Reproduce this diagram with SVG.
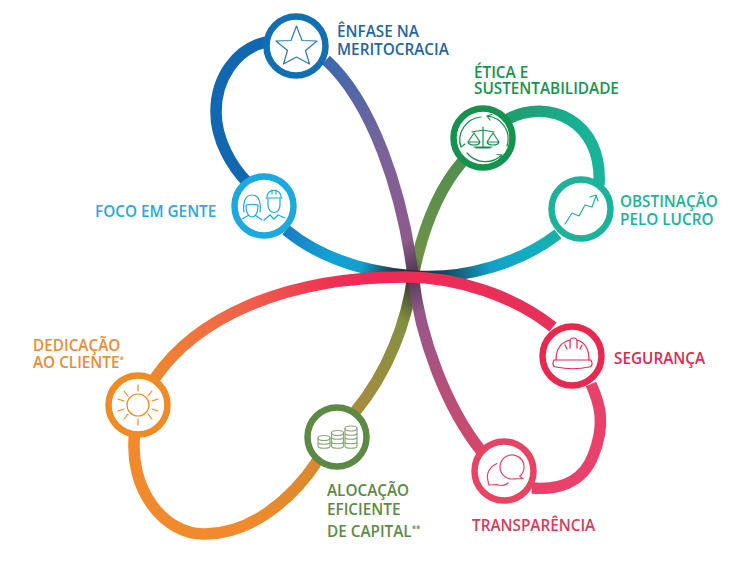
<svg xmlns="http://www.w3.org/2000/svg" width="749" height="577" viewBox="0 0 749 577">
<style>
.l{fill:none;stroke-width:11.5;stroke-linecap:butt}
.r{fill:#fff;stroke-width:6.5}
.i{fill:none;stroke-width:1.2;stroke-linecap:round;stroke-linejoin:round}
text{font-family:"Open Sans","Noto Sans","Liberation Sans",sans-serif;font-weight:600;font-size:15.3px}
.s{font-size:8px}
</style>
<defs>
<linearGradient id="g1" gradientUnits="userSpaceOnUse" x1="285" y1="228" x2="413" y2="276"><stop offset="0" stop-color="#1a7cc0"/><stop offset=".4" stop-color="#13a2d6"/><stop offset=".62" stop-color="#12a0cc"/><stop offset=".85" stop-color="#163f55"/><stop offset="1" stop-color="#2a2a35"/></linearGradient>
<linearGradient id="g3" gradientUnits="userSpaceOnUse" x1="326" y1="60" x2="413" y2="275"><stop offset="0" stop-color="#3d69ae"/><stop offset=".45" stop-color="#7a6299"/><stop offset=".85" stop-color="#8f5a8c"/><stop offset="1" stop-color="#4a3a50"/></linearGradient>
<linearGradient id="g4" gradientUnits="userSpaceOnUse" x1="413" y1="275" x2="480" y2="452"><stop offset="0" stop-color="#4a3a50"/><stop offset=".2" stop-color="#95588a"/><stop offset="1" stop-color="#d2486a"/></linearGradient>
<linearGradient id="g6" gradientUnits="userSpaceOnUse" x1="155" y1="378" x2="552" y2="325"><stop offset="0" stop-color="#f08630"/><stop offset=".25" stop-color="#f0604a"/><stop offset=".5" stop-color="#ee2b55"/><stop offset="1" stop-color="#e8305a"/></linearGradient>
<linearGradient id="g8" gradientUnits="userSpaceOnUse" x1="290" y1="490" x2="413" y2="285"><stop offset="0" stop-color="#d98a2e"/><stop offset=".5" stop-color="#a08d3f"/><stop offset=".85" stop-color="#83903f"/><stop offset="1" stop-color="#3a3a30"/></linearGradient>
<linearGradient id="g9" gradientUnits="userSpaceOnUse" x1="413" y1="285" x2="465" y2="160"><stop offset="0" stop-color="#3a4030"/><stop offset=".2" stop-color="#6f9148"/><stop offset="1" stop-color="#4f8f4e"/></linearGradient>
<linearGradient id="g10" gradientUnits="userSpaceOnUse" x1="413" y1="276" x2="560" y2="232"><stop offset="0" stop-color="#2a2a35"/><stop offset=".2" stop-color="#15485c"/><stop offset=".5" stop-color="#12a0c8"/><stop offset=".8" stop-color="#12aec0"/><stop offset="1" stop-color="#18b0a5"/></linearGradient>
<linearGradient id="g11" gradientUnits="userSpaceOnUse" x1="510" y1="120" x2="600" y2="185"><stop offset="0" stop-color="#1f9e70"/><stop offset=".5" stop-color="#18b094"/><stop offset="1" stop-color="#1ab59c"/></linearGradient>
<linearGradient id="g7" gradientUnits="userSpaceOnUse" x1="135" y1="430" x2="318" y2="460"><stop offset="0" stop-color="#f08a2c"/><stop offset=".7" stop-color="#f08a2c"/><stop offset="1" stop-color="#d88a2e"/></linearGradient>
</defs>
<g id="connectors">
<path class="l" stroke="#1168b0" d="M266 42C236 49 216 78 216 112C216 140 232 167 248 183"/>
<path class="l" stroke="url(#g9)" d="M413 276C422 232 436 192 462 162"/>
<path class="l" stroke="url(#g8)" d="M355 412C388 372 407 322 413 276"/>
<path class="l" stroke="url(#g3)" d="M326 60C372 102 402 190 413 275"/>
<path class="l" stroke="url(#g4)" d="M413 275C420 340 448 410 482 452"/>
<path class="l" stroke="url(#g1)" d="M286 230C320 258 366 272 413 276"/>
<path class="l" stroke="url(#g10)" d="M413 276C466 280 522 262 558 234"/>
<path class="l" stroke="url(#g11)" d="M508 119C548 98 603 120 599 185"/>
<path class="l" stroke="#e8416a" d="M532 488C556 490 582 484 593 456C606 424 600 404 591 384"/>
<path class="l" stroke="url(#g6)" d="M155 378C195 320 280 277 405 277C460 277 515 297 553 327"/>
<path class="l" stroke="url(#g7)" d="M135 430C127 490 165 535 205 534C250 534 292 500 318 460"/>
</g>
<g id="enfase"><circle class="r" stroke="#126fb3" cx="296" cy="46" r="29.5"/>
<path class="i" stroke="#2a7ab5" d="M296.500 26L302 40.500L317 41L305.500 50.500L309.500 64L296.500 57L283.500 64L287.500 50.500L276 41L291 40.500Z"/>
<text fill="#1f66a6"><tspan x="337" y="37">ÊNFASE NA</tspan><tspan x="337" y="55">MERITOCRACIA</tspan></text></g>
<g id="foco"><circle class="r" stroke="#1da8de" cx="264" cy="206" r="29.5"/>
<g class="i" stroke="#1da8de"><path d="M244 212C243 205 244 195 252 195C260 195 261 205 260 212M246 205C246 215 250 217 252 217C254 217 258 215 258 205M246 205C250 204 254 204 258 205M242 219L249 215M262 220L255 215"/>
<path d="M267 197C267 188 281 188 281 197M266 198H282M268 199V205C268 215 280 215 280 205V199M272 190V194M276 190V194M264 220L270 215L274 219L278 215L285 218"/></g>
<text fill="#27a9e1" x="95" y="217">FOCO EM GENTE</text></g>
<g id="etica"><circle class="r" stroke="#16924f" cx="483" cy="138" r="29.5"/>
<g class="i" stroke="#16924f"><path d="M483 127V148M476 148H490M474 147H492M472 132L483 130L494 132"/><path d="M474 133L468 142H480ZM493 133L487 142H499ZM468 142C469 146 479 146 480 142M487 142C488 146 498 146 499 142"/>
<path d="M481 117A23 23 0 0 0 461 147M461 147L459.500 142M461 147L465 144"/><path d="M487 116A23 23 0 0 1 507 146M487 116L492 114.500M487 116L490 120"/>
<path d="M467 153A24 24 0 0 0 502 155M502 155L497 154.500M502 155L501 160"/></g>
<text fill="#16924f"><tspan x="474" y="78">ÉTICA E</tspan><tspan x="474" y="94">SUSTENTABILIDADE</tspan></text></g>
<g id="obstinacao"><circle class="r" stroke="#1cb39a" cx="581" cy="209" r="29.5"/>
<path class="i" stroke="#1cb39a" d="M565 224L572 213L579 216L585 205L592 207L596 196M590 197L596 195L598 201"/>
<text fill="#1cb39a"><tspan x="620" y="207">OBSTINAÇÃO</tspan><tspan x="620" y="225">PELO LUCRO</tspan></text></g>
<g id="seguranca"><circle class="r" stroke="#e8294f" cx="572" cy="356" r="29.5"/>
<g class="i" stroke="#e8294f"><path d="M556 360C556 348 562 342 570 340M577 340C584 342 589 348 589 360M570 348V341C570 337 577 337 577 341V348M565 345L567 349M582 345L580 349"/><path d="M554 360H591M554 360C552 364 553 367 556 367C566 369 580 369 589 367C592 367 593 364 591 360"/></g>
<text fill="#d92b4f" x="614" y="364">SEGURANÇA</text></g>
<g id="transparencia"><circle class="r" stroke="#e84363" cx="504" cy="471" r="29.5"/>
<g class="i" stroke="#e84363"><path d="M519.700 476.200A12 12 0 1 0 514 478.800L523 478.500Z"/><path d="M497 463.500C489 467 486 474 488 481L489 485L497 484.500C500 486 505 486 508 483"/></g>
<text fill="#d93a5c" x="472" y="531">TRANSPARÊNCIA</text></g>
<g id="dedicacao"><circle class="r" stroke="#f08a24" cx="138" cy="405" r="29.5"/>
<g class="i" stroke="#f08a24"><circle cx="138" cy="405" r="11"/><path d="M138 385V391M138 419V425M124 391L128 396M148 414L152 419M152 391L148 396M128 414L124 419M118 399L124 401M152 409L158 411M118 411L124 409M152 401L158 399"/></g>
<text fill="#ef8a34"><tspan x="33" y="351">DEDICAÇÃO</tspan><tspan x="33" y="368">AO CLIENTE</tspan><tspan class="s" dy="-5">*</tspan></text></g>
<g id="alocacao"><circle class="r" stroke="#5c8a45" cx="337" cy="437" r="29.5"/>
<g class="i" stroke="#8aa87a" stroke-width="1"><ellipse cx="351" cy="428.500" rx="6" ry="2.500"/><path d="M345 428.500V446C345 449 357 449 357 446V428.500M345 433C345 436 357 436 357 433M345 437C345 440 357 440 357 437M345 441.500C345 444.500 357 444.500 357 441.500"/><ellipse cx="337.500" cy="433" rx="6" ry="2.500"/><path d="M331.500 433V446C331.500 449 343.500 449 343.500 446V433M331.500 437C331.500 440 343.500 440 343.500 437M331.500 441.500C331.500 444.500 343.500 444.500 343.500 441.500"/><ellipse cx="324" cy="438" rx="6" ry="2.500"/><path d="M318 438V446C318 449 330 449 330 446V438M318 442C318 445 330 445 330 442"/></g>
<text fill="#5c8a45"><tspan x="327" y="496">ALOCAÇÃO</tspan><tspan x="327" y="515">EFICIENTE</tspan><tspan x="327" y="537">DE CAPITAL</tspan><tspan class="s" dy="-5">**</tspan></text></g>
</svg>
